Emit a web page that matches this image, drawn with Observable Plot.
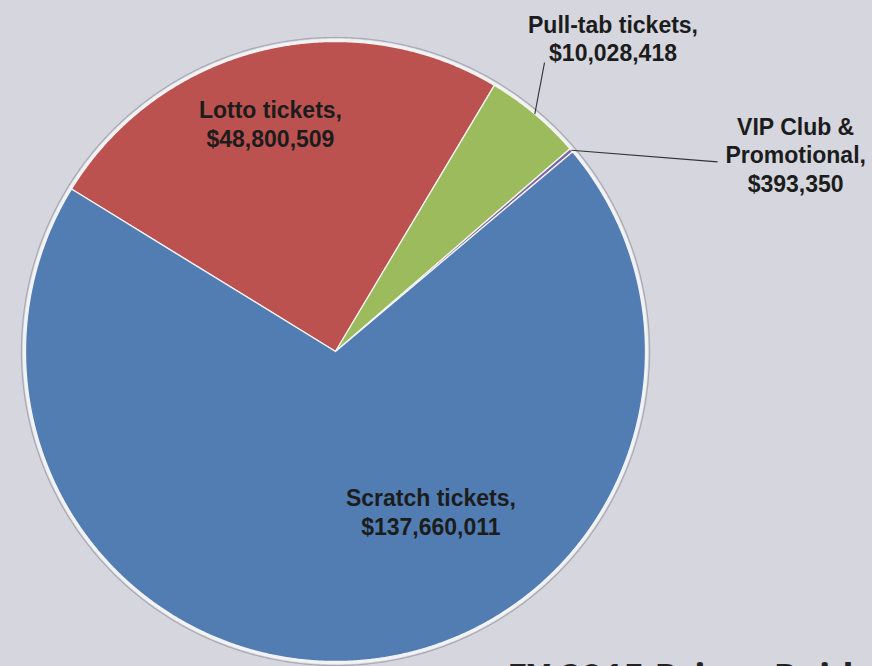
<!DOCTYPE html>
<html>
<head>
<meta charset="utf-8">
<script src="https://cdn.jsdelivr.net/npm/d3@7"></script>
<script src="https://cdn.jsdelivr.net/npm/@observablehq/plot@0.6"></script>
<style>
  html, body { margin: 0; padding: 0; background: #d5d6de; overflow: hidden; }
  #wrap { position: relative; width: 872px; height: 666px; overflow: hidden; }
  #title { position: absolute; left: 507px; top: 658px; white-space: nowrap;
    font-family: "Open Sans", sans-serif; font-weight: 700; font-size: 37px; line-height: 37px; color: #232323; }
</style>
</head>
<body>
<div id="wrap"><div id="chart"></div><div id="title">FY 2015 Prizes Paid</div></div>
<script>
// ---- data ----
const categories = ["Lotto tickets", "Pull-tab tickets", "VIP Club & Promotional", "Scratch tickets"];
const values = [48800509, 10028418, 393350, 137660011];
const labelNames = ["Lotto tickets,", "Pull-tab tickets,", "VIP Club &\nPromotional,", "Scratch tickets,"];

// ---- styles / layout ----
const colors = ["#bb5250", "#9bbb5c", "#8064a2", "#517db3"];
const startDeg = -58.4;
// label placement: [angle in degrees clockwise from north, radius as fraction of pie radius]
const labelPlacement = [[-15.9, 0.766], [41.5, 1.351], [66.8, 1.615], [149.2, 0.601]];
// leader line end points (null = no leader)
const leaderEnd = [null, [35.9, 1.15], [63.6, 1.376], null];

const deg = Math.PI / 180;
const polar = (a, r) => ({x: r * Math.sin(a), y: r * Math.cos(a)});
const pie = d3.pie().sort(null).value(d => d)
  .startAngle(startDeg * deg).endAngle((startDeg + 360) * deg);
const arcs = pie(values);
const fmt = d3.format("$,");

const slicePts = [];
arcs.forEach((a, i) => {
  const cat = categories[i];
  const n = Math.max(2, Math.ceil((a.endAngle - a.startAngle) / (0.25 * deg)));
  slicePts.push({...polar(0, 0), cat});
  for (let k = 0; k <= n; k++) {
    const t = a.startAngle + (a.endAngle - a.startAngle) * k / n;
    slicePts.push({...polar(t, 1), cat});
  }
  slicePts.push({...polar(0, 0), cat});
});

const ring = (r) => d3.range(0, 361, 0.5).map(t => polar(t * deg, r));

const labels = arcs.map((a, i) => {
  const [ang, r] = labelPlacement[i];
  return {...polar(ang * deg, r), text: labelNames[i] + "\n" + fmt(values[i])};
});

const leaders = [];
arcs.forEach((a, i) => {
  if (!leaderEnd[i]) return;
  const mid = (a.startAngle + a.endAngle) / 2;
  const p1 = polar(mid, 1.0);
  const p2 = polar(leaderEnd[i][0] * deg, leaderEnd[i][1]);
  leaders.push({x1: p1.x, y1: p1.y, x2: p2.x, y2: p2.y});
});

const W = 872, H = 666, cx = 335, cy = 351, R = 310;

const chart = Plot.plot({
  width: W,
  height: H,
  margin: 0,
  style: {background: "#d5d6de", overflow: "visible"},
  x: {domain: [-cx / R, (W - cx) / R], axis: null},
  y: {domain: [-(H - cy) / R, cy / R], axis: null},
  color: {domain: categories, range: colors},
  marks: [
    Plot.line(ring(1.013), {x: "x", y: "y", stroke: "#a8a9b2", strokeWidth: 1.2}),
    Plot.line(ring(1.004), {x: "x", y: "y", stroke: "#f2f2f4", strokeWidth: 3}),
    Plot.line(slicePts, {x: "x", y: "y", z: "cat", fill: "cat", stroke: "#f4f4f4", strokeWidth: 1.3, strokeLinejoin: "round"}),
    Plot.link(leaders, {x1: "x1", y1: "y1", x2: "x2", y2: "y2", stroke: "#333", strokeWidth: 1.1}),
    Plot.text(labels, {x: "x", y: "y", text: "text", fontSize: 23, fontWeight: "bold",
      fontFamily: "'Liberation Sans', Arial, sans-serif", lineHeight: 1.25, fill: "#1c1c1c"})
  ]
});
document.getElementById("chart").appendChild(chart);
</script>
</body>
</html>
